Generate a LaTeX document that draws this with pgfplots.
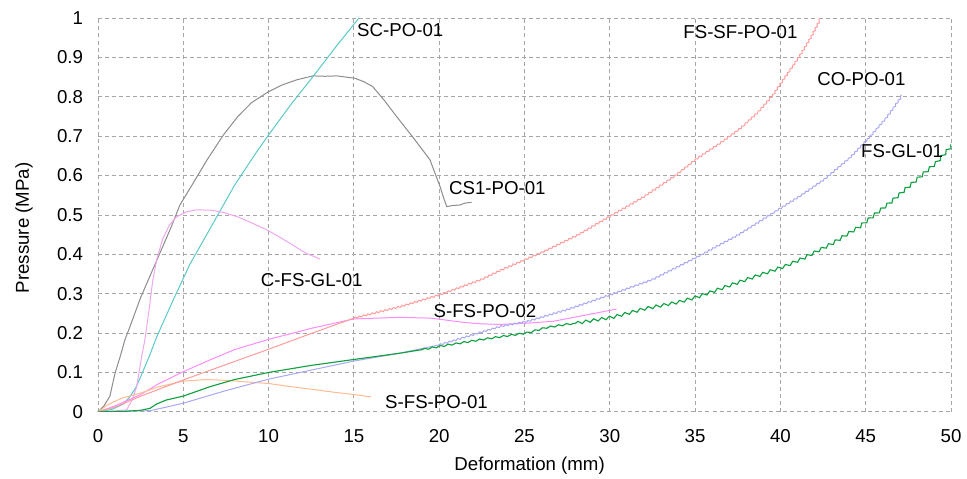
\documentclass[border=0pt]{standalone}
\usepackage{fontspec}
\setmainfont{Liberation Sans}
\usepackage{xcolor}
\usepackage{pgfplots}
\pgfplotsset{compat=1.18}
\usetikzlibrary{decorations.pathmorphing}

\definecolor{gridgray}{HTML}{A6A6A6}
\definecolor{csgray}{HTML}{8C8C8C}
\definecolor{sccyan}{HTML}{5CC8C8}
\definecolor{cfsgl}{HTML}{F0A6F0}
\definecolor{sfs02}{HTML}{FF8CFF}
\definecolor{sfs01}{HTML}{FFBB90}
\definecolor{fssf}{HTML}{FF9C9C}
\definecolor{copo}{HTML}{A8A8F4}
\definecolor{fsgl}{HTML}{10A040}

\newcommand\lf{\fontsize{14}{16.8}\selectfont}

\begin{document}
\begin{tikzpicture}
\useasboundingbox (-73.5pt,-50.25pt) rectangle (652pt,309pt);
\begin{axis}[
  scale only axis, width=640pt, height=295.5pt,
  xmin=0, xmax=50, ymin=0, ymax=1,
  xtick={0,5,10,15,20,25,30,35,40,45,50},
  ytick={0,0.1,0.2,0.3,0.4,0.5,0.6,0.7,0.8,0.9,1},
  axis line style={draw=none}, major tick length=0pt,
  grid=major, major grid style={gridgray, line width=0.6pt, dash pattern=on 3pt off 2.3pt},
  /pgf/number format/assume math mode=true,
  ticklabel style={font=\lf},
  yticklabel style={inner sep=0pt, xshift=-11pt},
  xticklabel style={inner sep=0pt, yshift=-13pt},
  xlabel={Deformation (mm)}, ylabel={Pressure (MPa)},
  label style={font=\lf},
  xlabel style={at={(axis description cs:0.506,-0.137)}, anchor=center},
  ylabel style={at={(axis description cs:-0.0867,0.467)}, anchor=center},
  clip=true,
  every axis plot/.append style={line width=0.75pt},
  wavy/.style 2 args={decorate, decoration={snake, segment length=#1, amplitude=#2}},
]
% CS1-PO-01
\addplot[csgray] coordinates {(0,0) (0.35,0.015) (0.7,0.04) (1.0,0.098) (1.3,0.14) (1.58,0.183) (1.88,0.217) (2.5,0.29) (3.1,0.35) (3.7,0.41) (4.3,0.47) (4.8,0.525) (5.5,0.575) (6.4,0.64) (7.35,0.703) (8.2,0.75) (9,0.785) (10,0.813) (10.8,0.83) (11.65,0.843) (12.6,0.853) (13.3,0.852) (14,0.853) (15.06,0.847) (15.6,0.838) (16.1,0.826) (16.8,0.79) (17.5,0.75) (18.5,0.695) (19.46,0.64) (20.05,0.572) (20.24,0.546) (20.44,0.521) (20.8,0.524) (21.2,0.525) (21.5,0.53) (21.9,0.532)};
% SC-PO-01
\addplot[sccyan] coordinates {(0,0) (0.8,0.006) (1.5,0.02) (1.88,0.039) (2.2,0.06) (2.46,0.085) (3.0,0.14) (3.44,0.19) (4.41,0.284) (5.39,0.375) (6.57,0.465) (8,0.575) (9.3,0.66) (10,0.703) (11.3,0.78) (12.6,0.851) (14,0.93) (15.3,1.0)};
% C-FS-GL-01
\addplot[cfsgl] coordinates {(0,0) (0.8,0.002) (1.68,0.005) (2.0,0.03) (2.27,0.064) (2.56,0.14) (2.75,0.183) (3.0,0.26) (3.2,0.33) (3.44,0.386) (3.8,0.44) (4.2,0.475) (4.6,0.495) (5.2,0.508) (5.8,0.513) (6.6,0.512) (7.3,0.507) (8.2,0.495) (9.0,0.48) (9.9,0.462) (10.6,0.445) (11.25,0.428) (12.1,0.405) (13.0,0.388)};
% S-FS-PO-02
\addplot[sfs02] coordinates {(0,0) (1,0.015) (2.46,0.043) (3.5,0.07) (5,0.102) (6.57,0.132) (8,0.158) (10,0.184) (12.5,0.212) (15,0.236) (17.7,0.240) (19.5,0.238) (20.4,0.233) (21.3,0.228) (22.2,0.224) (23.5,0.222) (25.1,0.225) (26.7,0.23) (28.5,0.245) (30.4,0.261)};
% S-FS-PO-01
\addplot[sfs01] coordinates {(0,0) (0.5,0.016) (1,0.027) (1.48,0.036) (2.46,0.047) (3.5,0.063) (5,0.078) (6.37,0.082) (7.5,0.08) (8.7,0.076) (10,0.072) (11.3,0.064) (12.6,0.057) (13.8,0.05) (15,0.044) (16,0.038)};
% FS-SF-PO-01
\addplot[fssf] coordinates {(0,0) (1,0.012) (2.46,0.039) (5,0.081) (7.5,0.12) (10,0.159) (12.5,0.199) (15,0.238)};
\addplot[fssf, wavy={3.3pt}{0.6pt}] coordinates {(15,0.238) (17.7,0.267) (20,0.297) (22.4,0.335) (23.6,0.36) (26,0.405) (28,0.447) (30.1,0.50) (31.8,0.542) (33.7,0.597) (35.1,0.645) (36.5,0.685) (37.6,0.72) (38.6,0.76) (39.5,0.805) (40.2,0.85) (41,0.9) (41.7,0.95) (42.3,1.0)};
% CO-PO-01
\addplot[copo] coordinates {(0,0) (1.5,0.002) (3.05,0.003) (4,0.012) (5,0.022) (7.5,0.054) (10,0.083) (12.5,0.106) (15,0.129) (17.7,0.149) (20,0.170)};
\addplot[copo, wavy={3.4pt}{0.55pt}] coordinates {(20,0.170) (23.6,0.217) (25.1,0.229) (27.5,0.26) (30.1,0.299) (32.4,0.335) (35.1,0.394) (37.5,0.45) (40.1,0.521) (41.2,0.551) (42.5,0.59) (44,0.645) (45.1,0.695) (46.2,0.75) (47.1,0.805)};
% FS-GL-01
\addplot[fsgl, line width=0.85pt] coordinates {(0,0) (1.5,0.001) (2.5,0.004) (3.05,0.009) (3.44,0.02) (4,0.03) (5,0.04) (6.57,0.064) (8,0.082) (10,0.1) (12.5,0.118) (15,0.133) (17.7,0.149) (19,0.158)};
\addplot[fsgl, line width=0.85pt, wavy={6pt}{0.6pt}] coordinates {(19,0.158) (20,0.166) (22.4,0.183) (25.1,0.20) (26.1,0.212) (28,0.225)};
\addplot[fsgl, line width=0.85pt, wavy={6pt}{1.1pt}] coordinates {(28,0.225) (30.1,0.24) (32,0.262) (33.9,0.278) (35.1,0.293) (37.5,0.33) (40.1,0.369) (41.2,0.39) (43,0.43) (44.5,0.47) (46.4,0.535) (48,0.595) (49,0.632) (50,0.68)};
% labels
\node[anchor=west, inner sep=0pt, font=\lf] at (axis cs:15.18,0.97) {SC-PO-01};
\node[anchor=west, inner sep=0pt, font=\lf] at (axis cs:34.3,0.964) {FS-SF-PO-01};
\node[anchor=west, inner sep=0pt, font=\lf] at (axis cs:42.15,0.844) {CO-PO-01};
\node[anchor=west, inner sep=0pt, font=\lf] at (axis cs:44.72,0.661) {FS-GL-01};
\node[anchor=west, inner sep=0pt, font=\lf] at (axis cs:20.57,0.568) {CS1-PO-01};
\node[anchor=west, inner sep=0pt, font=\lf] at (axis cs:9.54,0.335) {C-FS-GL-01};
\node[anchor=west, inner sep=0pt, font=\lf] at (axis cs:19.66,0.257) {S-FS-PO-02};
\node[anchor=west, inner sep=0pt, font=\lf] at (axis cs:16.82,0.026) {S-FS-PO-01};
\end{axis}
\end{tikzpicture}
\end{document}
